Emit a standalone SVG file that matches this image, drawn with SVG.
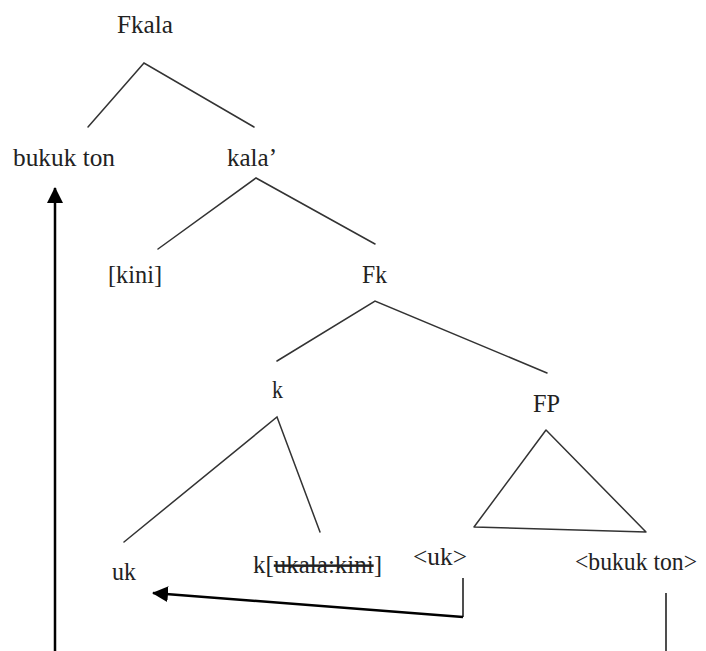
<svg xmlns="http://www.w3.org/2000/svg" width="706" height="651" viewBox="0 0 706 651">
<style>
.t{font-family:"Liberation Serif","Times New Roman",serif;font-size:25px;fill:#222}
.b{stroke:#333;stroke-width:1.5;fill:none;stroke-linecap:round}
.a{stroke:#000;stroke-width:2.5;fill:none}
.v{stroke:#222;stroke-width:1.6;fill:none}
.s{text-decoration:line-through}
</style>
<defs>
<marker id="ah" markerUnits="userSpaceOnUse" markerWidth="16" markerHeight="16" viewBox="0 0 16 16" refX="15" refY="8" orient="auto">
<path d="M0,0 L16,8 L0,16 z" fill="#000"/>
</marker>
</defs>
<rect width="706" height="651" fill="#fff"/>
<g id="n-fkala"><text class="t" x="117" y="33" textLength="56" lengthAdjust="spacingAndGlyphs">Fkala</text></g>
<g id="n-bukukton"><text class="t" x="13" y="166" textLength="102" lengthAdjust="spacingAndGlyphs">bukuk ton</text></g>
<g id="n-kala"><text class="t" x="227" y="166" textLength="50" lengthAdjust="spacingAndGlyphs">kala’</text></g>
<g id="n-kini"><text class="t" x="108" y="283" textLength="54" lengthAdjust="spacingAndGlyphs">[kini]</text></g>
<g id="n-fk"><text class="t" x="362" y="283" textLength="25" lengthAdjust="spacingAndGlyphs">Fk</text></g>
<g id="n-k"><text class="t" x="272" y="398" textLength="11" lengthAdjust="spacingAndGlyphs">k</text></g>
<g id="n-fp"><text class="t" x="533" y="412" textLength="27" lengthAdjust="spacingAndGlyphs">FP</text>
<path class="b" d="M546,430 L474,527 L646,532 Z" stroke-linejoin="round"/></g>
<g id="n-uk"><text class="t" x="112" y="580" textLength="24" lengthAdjust="spacingAndGlyphs">uk</text></g>
<g id="n-kbr"><text class="t" x="253" y="573" textLength="129" lengthAdjust="spacingAndGlyphs">k[<tspan class="s">ukala:kini</tspan>]</text></g>
<g id="n-ukt"><text class="t" x="413" y="565" textLength="54" lengthAdjust="spacingAndGlyphs">&lt;uk&gt;</text></g>
<g id="n-bukuktont"><text class="t" x="575" y="570" textLength="122" lengthAdjust="spacingAndGlyphs">&lt;bukuk ton&gt;</text></g>
<g id="connectors">
<path class="b" d="M88,127 L144,63 L254,127"/>
<path class="b" d="M158,249 L256,178 L375,244"/>
<path class="b" d="M277,361 L375,301 L547,373"/>
<path class="b" d="M124,542 L277,417 L320,532"/>
<path class="a" d="M55,651 V188" marker-end="url(#ah)"/>
<path class="v" d="M463,578 V617"/>
<path class="a" d="M463,617 L153,593" marker-end="url(#ah)"/>
<path class="v" d="M666,593 V651"/>
</g>
</svg>
